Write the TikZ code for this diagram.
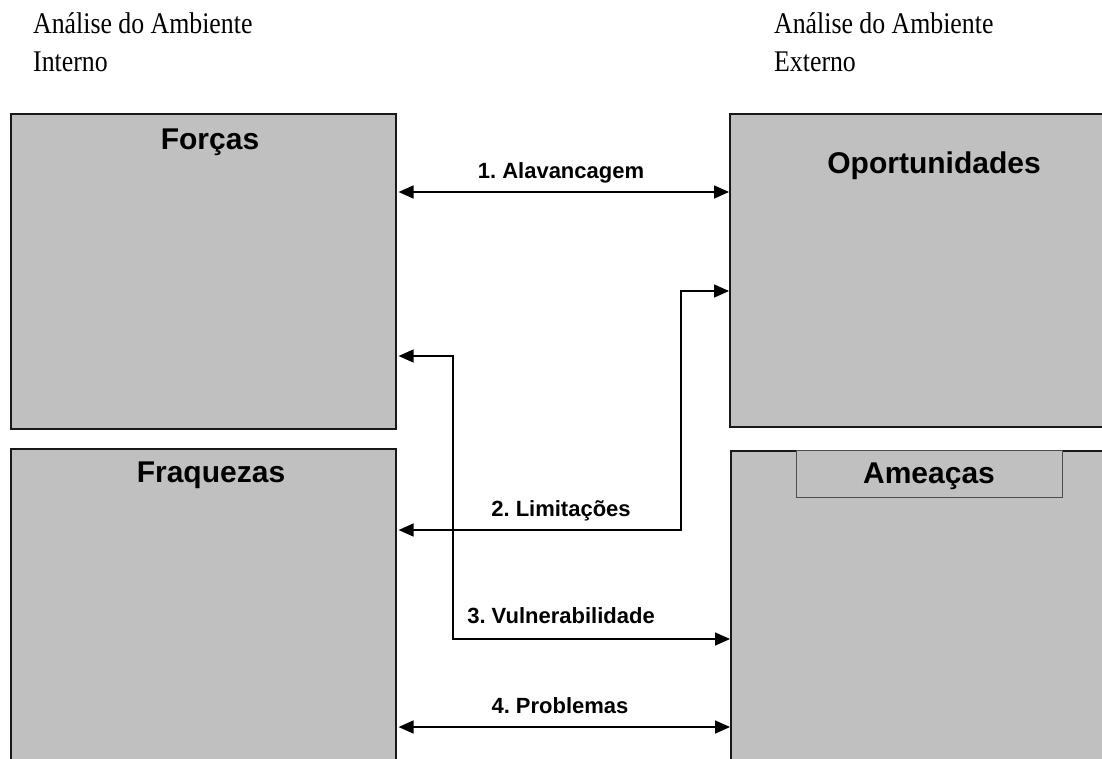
\documentclass[tikz,border=0pt]{standalone}
\usepackage{fontspec}
\setmainfont{Liberation Serif}
\newfontfamily\arialfont{Liberation Sans}
\newfontfamily\headfont[FakeStretch=0.86]{Liberation Serif}
\usetikzlibrary{arrows.meta}
\definecolor{quadgray}{RGB}{192,192,192}
\frenchspacing

\begin{document}
\begin{tikzpicture}[x=1pt,y=-1pt,
  quad/.style={draw=black!90, line width=1.6pt, fill=quadgray, anchor=north west, inner sep=0pt},
  tagbox/.style={draw=black!70, line width=1.2pt, fill=quadgray, anchor=north west, inner sep=0pt},
  title/.style={font=\arialfont\bfseries\fontsize{30}{36}\selectfont, anchor=base, inner sep=0pt},
  lbl/.style={font=\arialfont\bfseries\fontsize{22}{26}\selectfont, anchor=base, inner sep=0pt},
  head/.style={font=\headfont\fontsize{30}{38}\selectfont, anchor=base west, inner sep=0pt},
  tip/.tip={Triangle[length=15pt,width=13pt]},
  dbl/.style={line width=1.6pt, tip-tip, shorten <=2pt}
]
\useasboundingbox (0,0) rectangle (1102,758);

% column headings
\node[head] (hin1) at (33,33) {Análise do Ambiente};
\node[head] (hin2) at (33,71) {Interno};
\node[head] (hex1) at (774,33) {Análise do Ambiente};
\node[head] (hex2) at (774,71) {Externo};

% the four quadrants (partly running off the page)
\begin{scope}
\clip (0,0) rectangle (1102,758);
\node[quad, minimum width=385pt, minimum height=315pt] (forcas) at (10,113) {};
\node[quad, minimum width=385pt, minimum height=340pt] (fraq) at (10,448) {};
\node[quad, minimum width=395pt, minimum height=313pt] (oport) at (729,113) {};
\node[quad, minimum width=395pt, minimum height=340pt] (amea) at (730,450) {};
\node[tagbox, minimum width=266pt, minimum height=47pt] (ameatag) at (796,450) {};
\end{scope}

% quadrant titles
\node[title] (tforcas) at (210,149) {Forças};
\node[title] (tfraq) at (211,482) {Fraquezas};
\node[title] (toport) at (934,173) {Oportunidades};
\node[title] (tamea) at (929,483) {Ameaças};

% bend points of the connectors
\coordinate (y1) at (0,192);
\coordinate (c2) at (681,291);
\coordinate (b2) at (681,530);
\coordinate (c3) at (453,356);
\coordinate (b3) at (453,639);
\coordinate (y4) at (0,727);

% connectors
\draw[dbl] (forcas.east |- y1) -- (oport.west |- y1);
\draw[dbl] (fraq.east |- b2) -- (b2) -- (c2) -- (oport.west |- c2);
\draw[dbl] (forcas.east |- c3) -- (c3) -- (b3) -- (amea.west |- b3);
\draw[dbl] (fraq.east |- y4) -- (amea.west |- y4);

% connector labels
\node[lbl] (l1) at (561,178) {1. Alavancagem};
\node[lbl] (l2) at (561,516) {2. Limitações};
\node[lbl] (l3) at (561,623) {3. Vulnerabilidade};
\node[lbl] (l4) at (560,713) {4. Problemas};
\end{tikzpicture}
\end{document}
